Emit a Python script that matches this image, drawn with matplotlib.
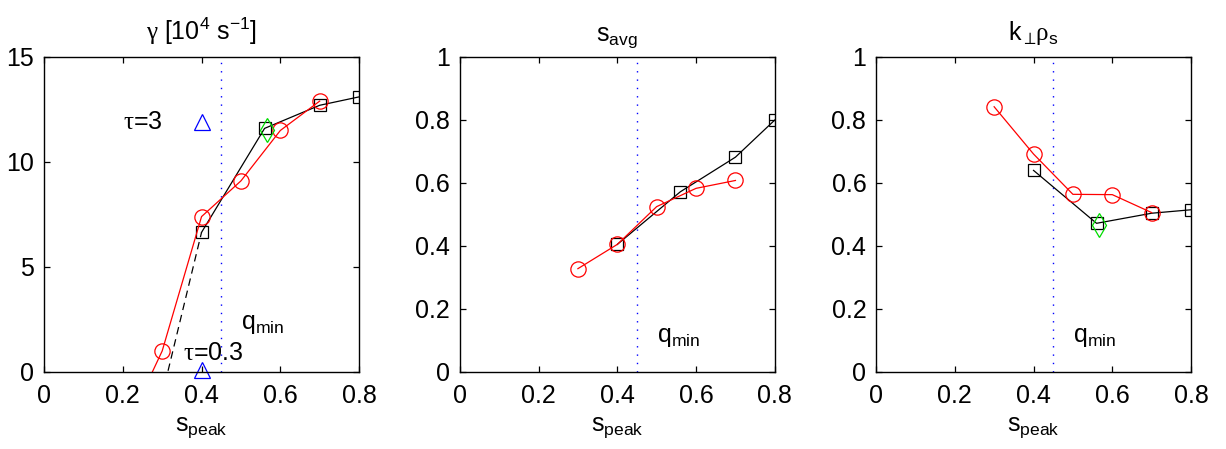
import numpy as np
import matplotlib.pyplot as plt

plt.rcParams['font.family'] = ['Liberation Sans', 'DejaVu Sans']
plt.rcParams['mathtext.fontset'] = 'custom'
plt.rcParams['mathtext.rm'] = 'Liberation Sans'
plt.rcParams['mathtext.it'] = 'Liberation Sans'
plt.rcParams['mathtext.sf'] = 'Liberation Serif'  # used for the greek letters
plt.rcParams['mathtext.default'] = 'rm'

# growth rate panel
gam_sq_x = [0.3, 0.4, 0.56, 0.7, 0.8]
gam_sq_y = [-1.1, 6.65, 11.6, 12.7, 13.1]
gam_ci_x = [0.2, 0.3, 0.4, 0.5, 0.6, 0.7]
gam_ci_y = [-3.0, 1.0, 7.4, 9.1, 11.5, 12.9]
gam_dia = (0.567, 11.5)
gam_tri_x = [0.4, 0.4]
gam_tri_y = [11.9, 0.1]

# s_avg panel
savg_sq_x = [0.4, 0.56, 0.7, 0.8]
savg_sq_y = [0.405, 0.572, 0.682, 0.80]
savg_ci_x = [0.3, 0.4, 0.5, 0.6, 0.7]
savg_ci_y = [0.328, 0.405, 0.525, 0.583, 0.608]

# k_perp rho_s panel
k_sq_x = [0.4, 0.56, 0.7, 0.8]
k_sq_y = [0.640, 0.472, 0.504, 0.515]
k_ci_x = [0.3, 0.4, 0.5, 0.6, 0.7]
k_ci_y = [0.842, 0.692, 0.564, 0.563, 0.506]
k_dia = (0.567, 0.466)

q_min_x = 0.45
titles = [r'$\mathsf{\gamma}$ [10$^4$ s$^{-1}$]', r's$_{avg}$', r'k$_{\perp}\!\mathsf{\rho}_s$']

fig = plt.figure(figsize=(12.26, 4.49), dpi=100)
lefts = [0.0359, 0.375, 0.7145]
axs = [fig.add_axes([l, 0.1715, 0.257, 0.7016]) for l in lefts]

fs = 18
lw = 0.9

def style(ax, ymax, yticks, title):
    ax.set_xlim(0, 0.8)
    ax.set_ylim(0, ymax)
    ax.set_xticks([0, 0.2, 0.4, 0.6, 0.8])
    ax.set_xticklabels(['0', '0.2', '0.4', '0.6', '0.8'])
    ax.set_yticks(yticks)
    ax.tick_params(direction='in', top=True, right=True, length=4, width=0.9,
                   labelsize=fs)
    ax.tick_params(axis='x', pad=9)
    ax.tick_params(axis='y', pad=7)
    for sp in ax.spines.values():
        sp.set_linewidth(1.0)
    ax.set_title(title, fontsize=fs, pad=12)
    ax.set_xlabel(r's$_{peak}$', fontsize=fs, labelpad=5)
    ax.axvline(q_min_x, color='blue', ls=(0, (1, 5)), lw=1.0)

# panel 1
ax = axs[0]
style(ax, 15, [0, 5, 10, 15], titles[0])
ax.set_yticklabels(['0', '5', '10', '15'])
ax.plot(gam_sq_x[:2], gam_sq_y[:2], color='k', ls=(0, (6, 4)), lw=lw)
ax.plot(gam_sq_x[1:], gam_sq_y[1:], 'k-', lw=lw, marker='s', ms=9,
        mfc='none', mec='k', mew=0.9)
ax.plot(gam_ci_x, gam_ci_y, 'r-', lw=lw, marker='o', ms=11,
        mfc='none', mec='r', mew=0.9)
ax.plot(*gam_dia, marker='d', ms=12, mfc='none', mec='#00dd00', mew=0.9)
ax.plot(gam_tri_x, gam_tri_y, ls='none', marker='^', ms=12, mfc='none',
        mec='blue', mew=0.9, clip_on=False)
ax.text(0.2, 11.9, r'$\mathsf{\tau}$=3', fontsize=fs, va='center', ha='left')
ax.text(0.352, 0.9, r'$\mathsf{\tau}$=0.3', fontsize=fs, va='center', ha='left')
ax.text(0.5, 2.3, r'q$_{min}$', fontsize=fs, va='center', ha='left')

# panel 2
ax = axs[1]
style(ax, 1, [0, 0.2, 0.4, 0.6, 0.8, 1], titles[1])
ax.set_yticklabels(['0', '0.2', '0.4', '0.6', '0.8', '1'])
ax.plot(savg_sq_x, savg_sq_y, 'k-', lw=lw, marker='s', ms=9,
        mfc='none', mec='k', mew=0.9)
ax.plot(savg_ci_x, savg_ci_y, 'r-', lw=lw, marker='o', ms=11,
        mfc='none', mec='r', mew=0.9)
ax.text(0.5, 0.11, r'q$_{min}$', fontsize=fs, va='center', ha='left')

# panel 3
ax = axs[2]
style(ax, 1, [0, 0.2, 0.4, 0.6, 0.8, 1], titles[2])
ax.set_yticklabels(['0', '0.2', '0.4', '0.6', '0.8', '1'])
ax.plot(k_sq_x, k_sq_y, 'k-', lw=lw, marker='s', ms=9,
        mfc='none', mec='k', mew=0.9)
ax.plot(k_ci_x, k_ci_y, 'r-', lw=lw, marker='o', ms=11,
        mfc='none', mec='r', mew=0.9)
ax.plot(*k_dia, marker='d', ms=12, mfc='none', mec='#00dd00', mew=0.9)
ax.text(0.5, 0.11, r'q$_{min}$', fontsize=fs, va='center', ha='left')

fig.savefig('out.png', dpi=100)
